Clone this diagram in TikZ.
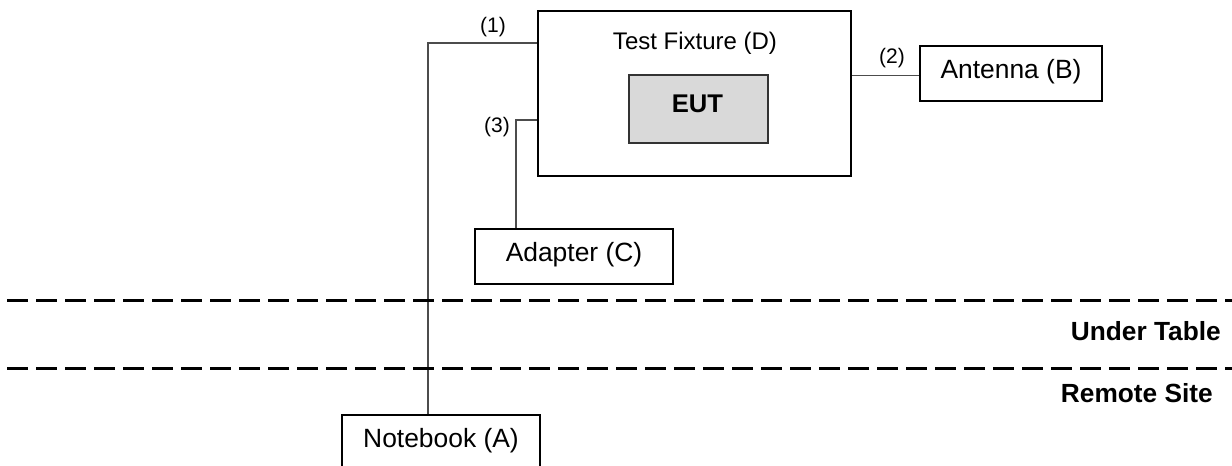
\documentclass[tikz,border=0pt]{standalone}
\usepackage{fontspec}
\setmainfont{Liberation Sans}
\begin{document}
\begin{tikzpicture}[x=0.75pt,y=-0.75pt,
  box/.style={draw=black,line width=0.9pt,inner sep=0pt,text height=0.716em,text depth=0pt,
    font=\fontsize{19.8pt}{24pt}\selectfont},
  fixture/.style={draw=black,line width=1.6pt,inner sep=0pt,minimum width=234.75pt,minimum height=123.75pt},
  eutbox/.style={draw=black!80,fill=black!15,line width=1.3pt,inner sep=0pt,minimum width=104.25pt,minimum height=51pt},
  lbl/.style={inner sep=0pt,anchor=base,font=\fontsize{15.75pt}{19pt}\selectfont},
  zone/.style={inner sep=0pt,anchor=base east,font=\fontsize{19.7pt}{24pt}\selectfont\bfseries},
  wire/.style={draw=black!70,line width=0.8pt},
  divider/.style={draw=black,line width=2.3pt,dash pattern=on 15.75pt off 6pt}]
\useasboundingbox (0,0) rectangle (1232,465);
% boxes
\node[fixture] (D) at (694.5,93.5) {};
\node[inner sep=0pt,anchor=base,font=\fontsize{18pt}{22pt}\selectfont] (Dt) at (695,49.3) {Test Fixture (D)};
\node[eutbox] (eut) at (698.5,109) {};
\node[inner sep=0pt,anchor=base,font=\fontsize{19.2pt}{23pt}\selectfont\bfseries] (eutt) at (697.5,112) {EUT};
\node[box,minimum width=136.5pt,minimum height=41.25pt] (ant) at (1011,73.5) {Antenna (B)};
\node[box,minimum width=148.5pt,minimum height=41.25pt] (ad) at (574,256.5) {Adapter (C)};
\node[box,minimum width=148.5pt,minimum height=42pt] (nb) at (441,443) {Notebook (A)};
% connectors
\coordinate (j1) at (428,43);
\coordinate (j3) at (516,120);
\coordinate (j2) at (851,75.5);
\draw[wire] (D.west |- j1) -- (j1) -- (j1 |- nb.north);
\draw[wire] (D.west |- j3) -- (j3) -- (j3 |- ad.north);
\draw[wire] (D.east |- j2) -- (ant.west |- j2);
% labels
\node[lbl] (l1) at (493,32) {(1)};
\node[lbl] (l2) at (892,63) {(2)};
\node[lbl] (l3) at (497,132) {(3)};
% dividers
\coordinate (d1a) at (7,300.5);
\coordinate (d1b) at (1232,300.5);
\coordinate (d2a) at (7,368.5);
\coordinate (d2b) at (1232,368.5);
\draw[divider] (d1a) -- (d1b);
\draw[divider] (d2a) -- (d2b);
\node[zone] (ut) at (1221,340) {Under Table};
\node[zone] (rs) at (1213,402) {Remote Site};
\end{tikzpicture}
\end{document}
